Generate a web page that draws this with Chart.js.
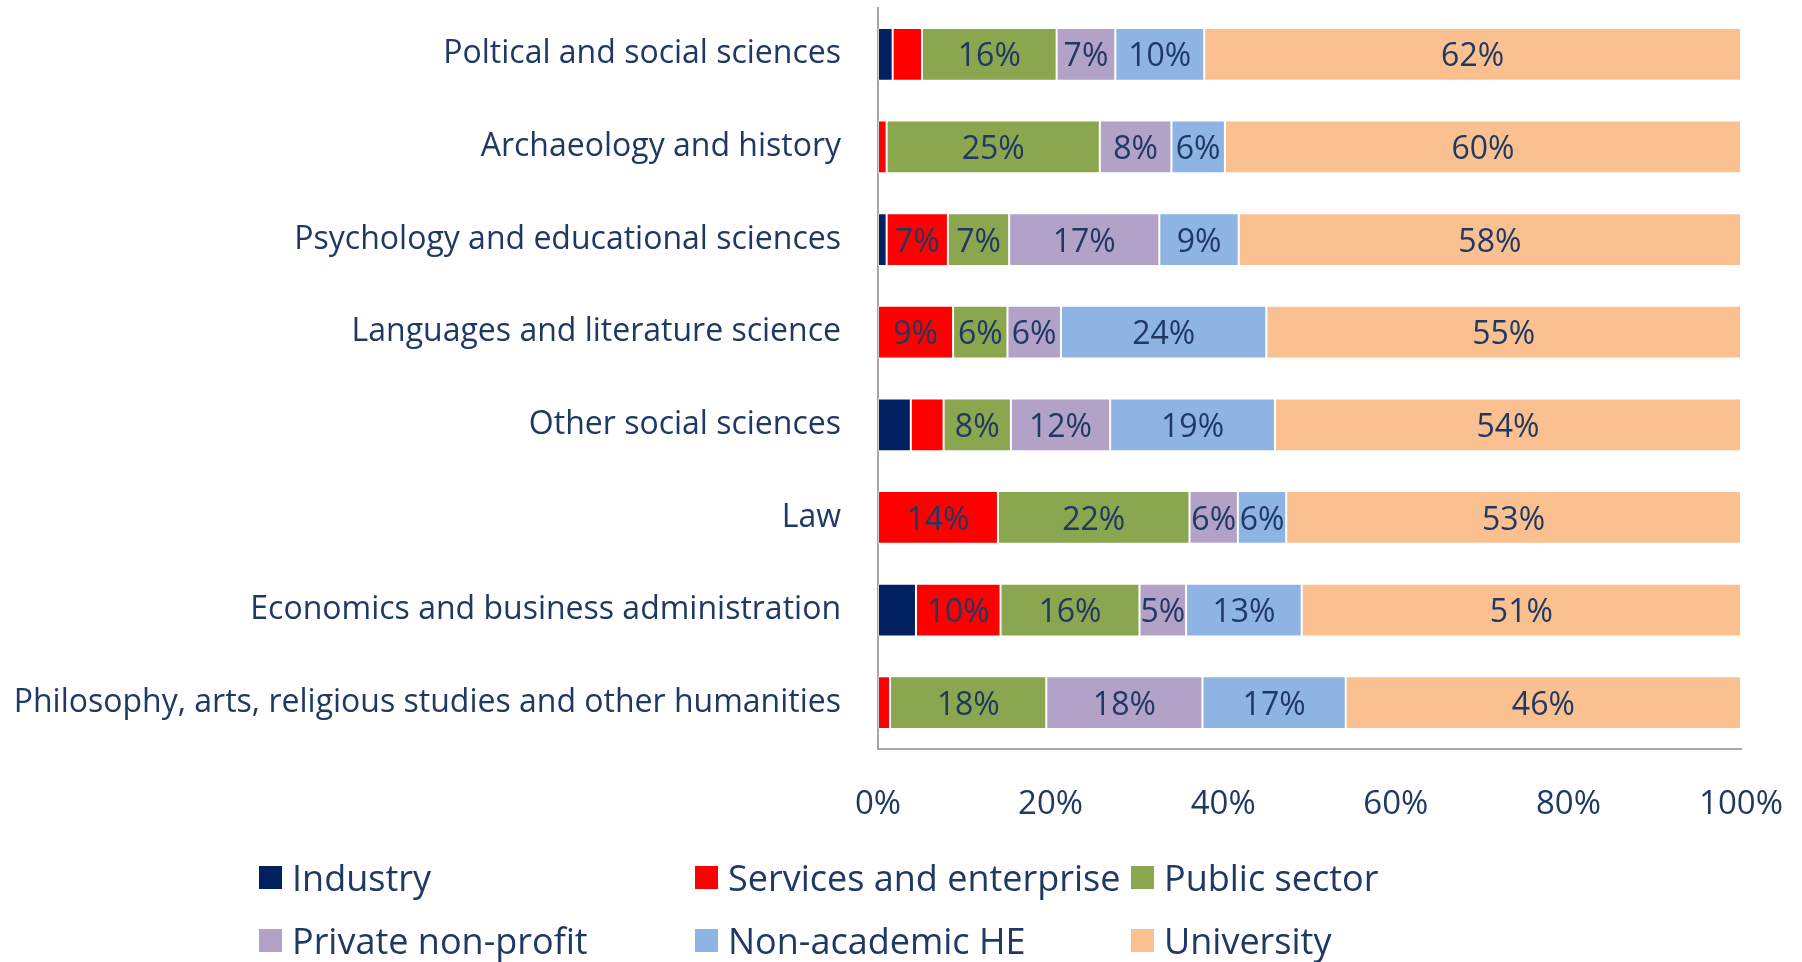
<!DOCTYPE html>
<html>
<head>
<meta charset="utf-8">
<script src="https://cdn.jsdelivr.net/npm/chart.js@4.4.1/dist/chart.umd.min.js"></script>
<style>
  body { margin: 0; background: #fff; }
  #wrap { position: relative; width: 1802px; height: 962px; }
  #legend {
    position: absolute; left: 259px; top: 858px;
    display: grid; grid-template-columns: 436px 436px 436px; row-gap: 25px;
    font-family: 'Open Sans', sans-serif; font-size: 36px; color: #1f3864;
  }
  .item { display: flex; align-items: center; height: 38px; white-space: nowrap; }
  .box { width: 23px; height: 23px; margin-right: 10px; flex: none; }
</style>
</head>
<body>
<div id="wrap">
  <canvas id="chart"></canvas>
  <div id="legend"></div>
</div>
<script>
// ── DATA ─────────────────────────────────────────────────────
const categories = [
  'Poltical and social sciences',
  'Archaeology and history',
  'Psychology and educational sciences',
  'Languages and literature science',
  'Other social sciences',
  'Law',
  'Economics and business administration',
  'Philosophy, arts, religious studies and other humanities',
];

const industry   = [1.7, 0,    1.0,  0,    3.8,  0,    4.4,  0];
const services   = [3.4, 1.0,  7.1,  8.7,  3.8,  13.9, 9.8,  1.4];
const publicSec  = [15.6, 24.7, 7.1, 6.3,  7.8,  22.2, 16.1, 18.1];
const privateNp  = [6.8, 8.3,  17.4, 6.2,  11.5, 5.6,  5.4,  18.1];
const nonAcadHE  = [10.3, 6.2, 9.2,  23.8, 19.1, 5.6,  13.4, 16.6];
const university = [62.2, 59.8, 58.2, 55.0, 54.0, 52.7, 50.9, 45.8];

const seriesNames  = ['Industry', 'Services and enterprise', 'Public sector', 'Private non-profit', 'Non-academic HE', 'University'];
const seriesValues = [industry, services, publicSec, privateNp, nonAcadHE, university];
const seriesColors = ['#002060', '#ff0000', '#8aa64e', '#b2a2c7', '#8eb4e3', '#fac090'];

const xTicks = [0, 20, 40, 60, 80, 100];

const TEXT = '#1f3864';
const FONT = 'Open Sans';

// ── VALUE LABELS ─────────────────────────────────────────────
// small segments (under 5%) carry no label, as in the source
const valueLabels = {
  id: 'valueLabels',
  afterDatasetsDraw(chart) {
    const ctx = chart.ctx;
    ctx.save();
    ctx.font = `32px "${FONT}"`;
    ctx.fillStyle = TEXT;
    ctx.textAlign = 'center';
    ctx.textBaseline = 'middle';
    chart.data.datasets.forEach((ds, i) => {
      chart.getDatasetMeta(i).data.forEach((bar, j) => {
        const v = ds.data[j];
        if (v < 5) return;
        ctx.fillText(Math.round(v) + '%', (bar.x + bar.base) / 2, bar.y + 3);
      });
    });
    ctx.restore();
  },
};

// ── CHART ────────────────────────────────────────────────────
new Chart(document.getElementById('chart'), {
  type: 'bar',
  data: {
    labels: categories,
    datasets: seriesNames.map((name, i) => ({
      label: name,
      data: seriesValues[i],
      backgroundColor: seriesColors[i],
      borderColor: 'rgba(255,255,255,0.5)',
      borderWidth: 1,
      borderSkipped: false,
      barPercentage: 0.57,
      categoryPercentage: 1,
    })),
  },
  options: {
    indexAxis: 'y',
    responsive: true,
    maintainAspectRatio: false,
    animation: false,
    layout: { padding: { top: 8, right: 61, bottom: 123, left: 0 } },
    plugins: { legend: { display: false }, tooltip: { enabled: false } },
    scales: {
      x: {
        stacked: true,
        min: 0,
        max: 100,
        afterBuildTicks: (s) => { s.ticks = xTicks.map(v => ({ value: v })); },
        afterFit: (s) => { s.height = 90; s.paddingLeft = 0; s.paddingRight = 0; },
        grid: { display: false, drawTicks: false },
        border: { display: true, color: '#a6a6a6', width: 2 },
        ticks: {
          color: TEXT,
          padding: 36,
          font: { family: FONT, size: 33 },
          callback: (v) => v + '%',
        },
      },
      y: {
        stacked: true,
        afterFit: (s) => { s.width = 878; s.paddingTop = 0; s.paddingBottom = 0; },
        grid: { display: false, drawTicks: false },
        border: { display: true, color: '#a6a6a6', width: 2 },
        ticks: {
          color: TEXT,
          padding: 37,
          font: { family: FONT, size: 32 },
        },
      },
    },
  },
  plugins: [valueLabels],
});

// ── LEGEND ───────────────────────────────────────────────────
document.getElementById('legend').innerHTML = seriesNames.map((name, i) => `
  <div class="item"><span class="box" style="background:${seriesColors[i]}"></span>${name}</div>
`).join('');
</script>
</body>
</html>
